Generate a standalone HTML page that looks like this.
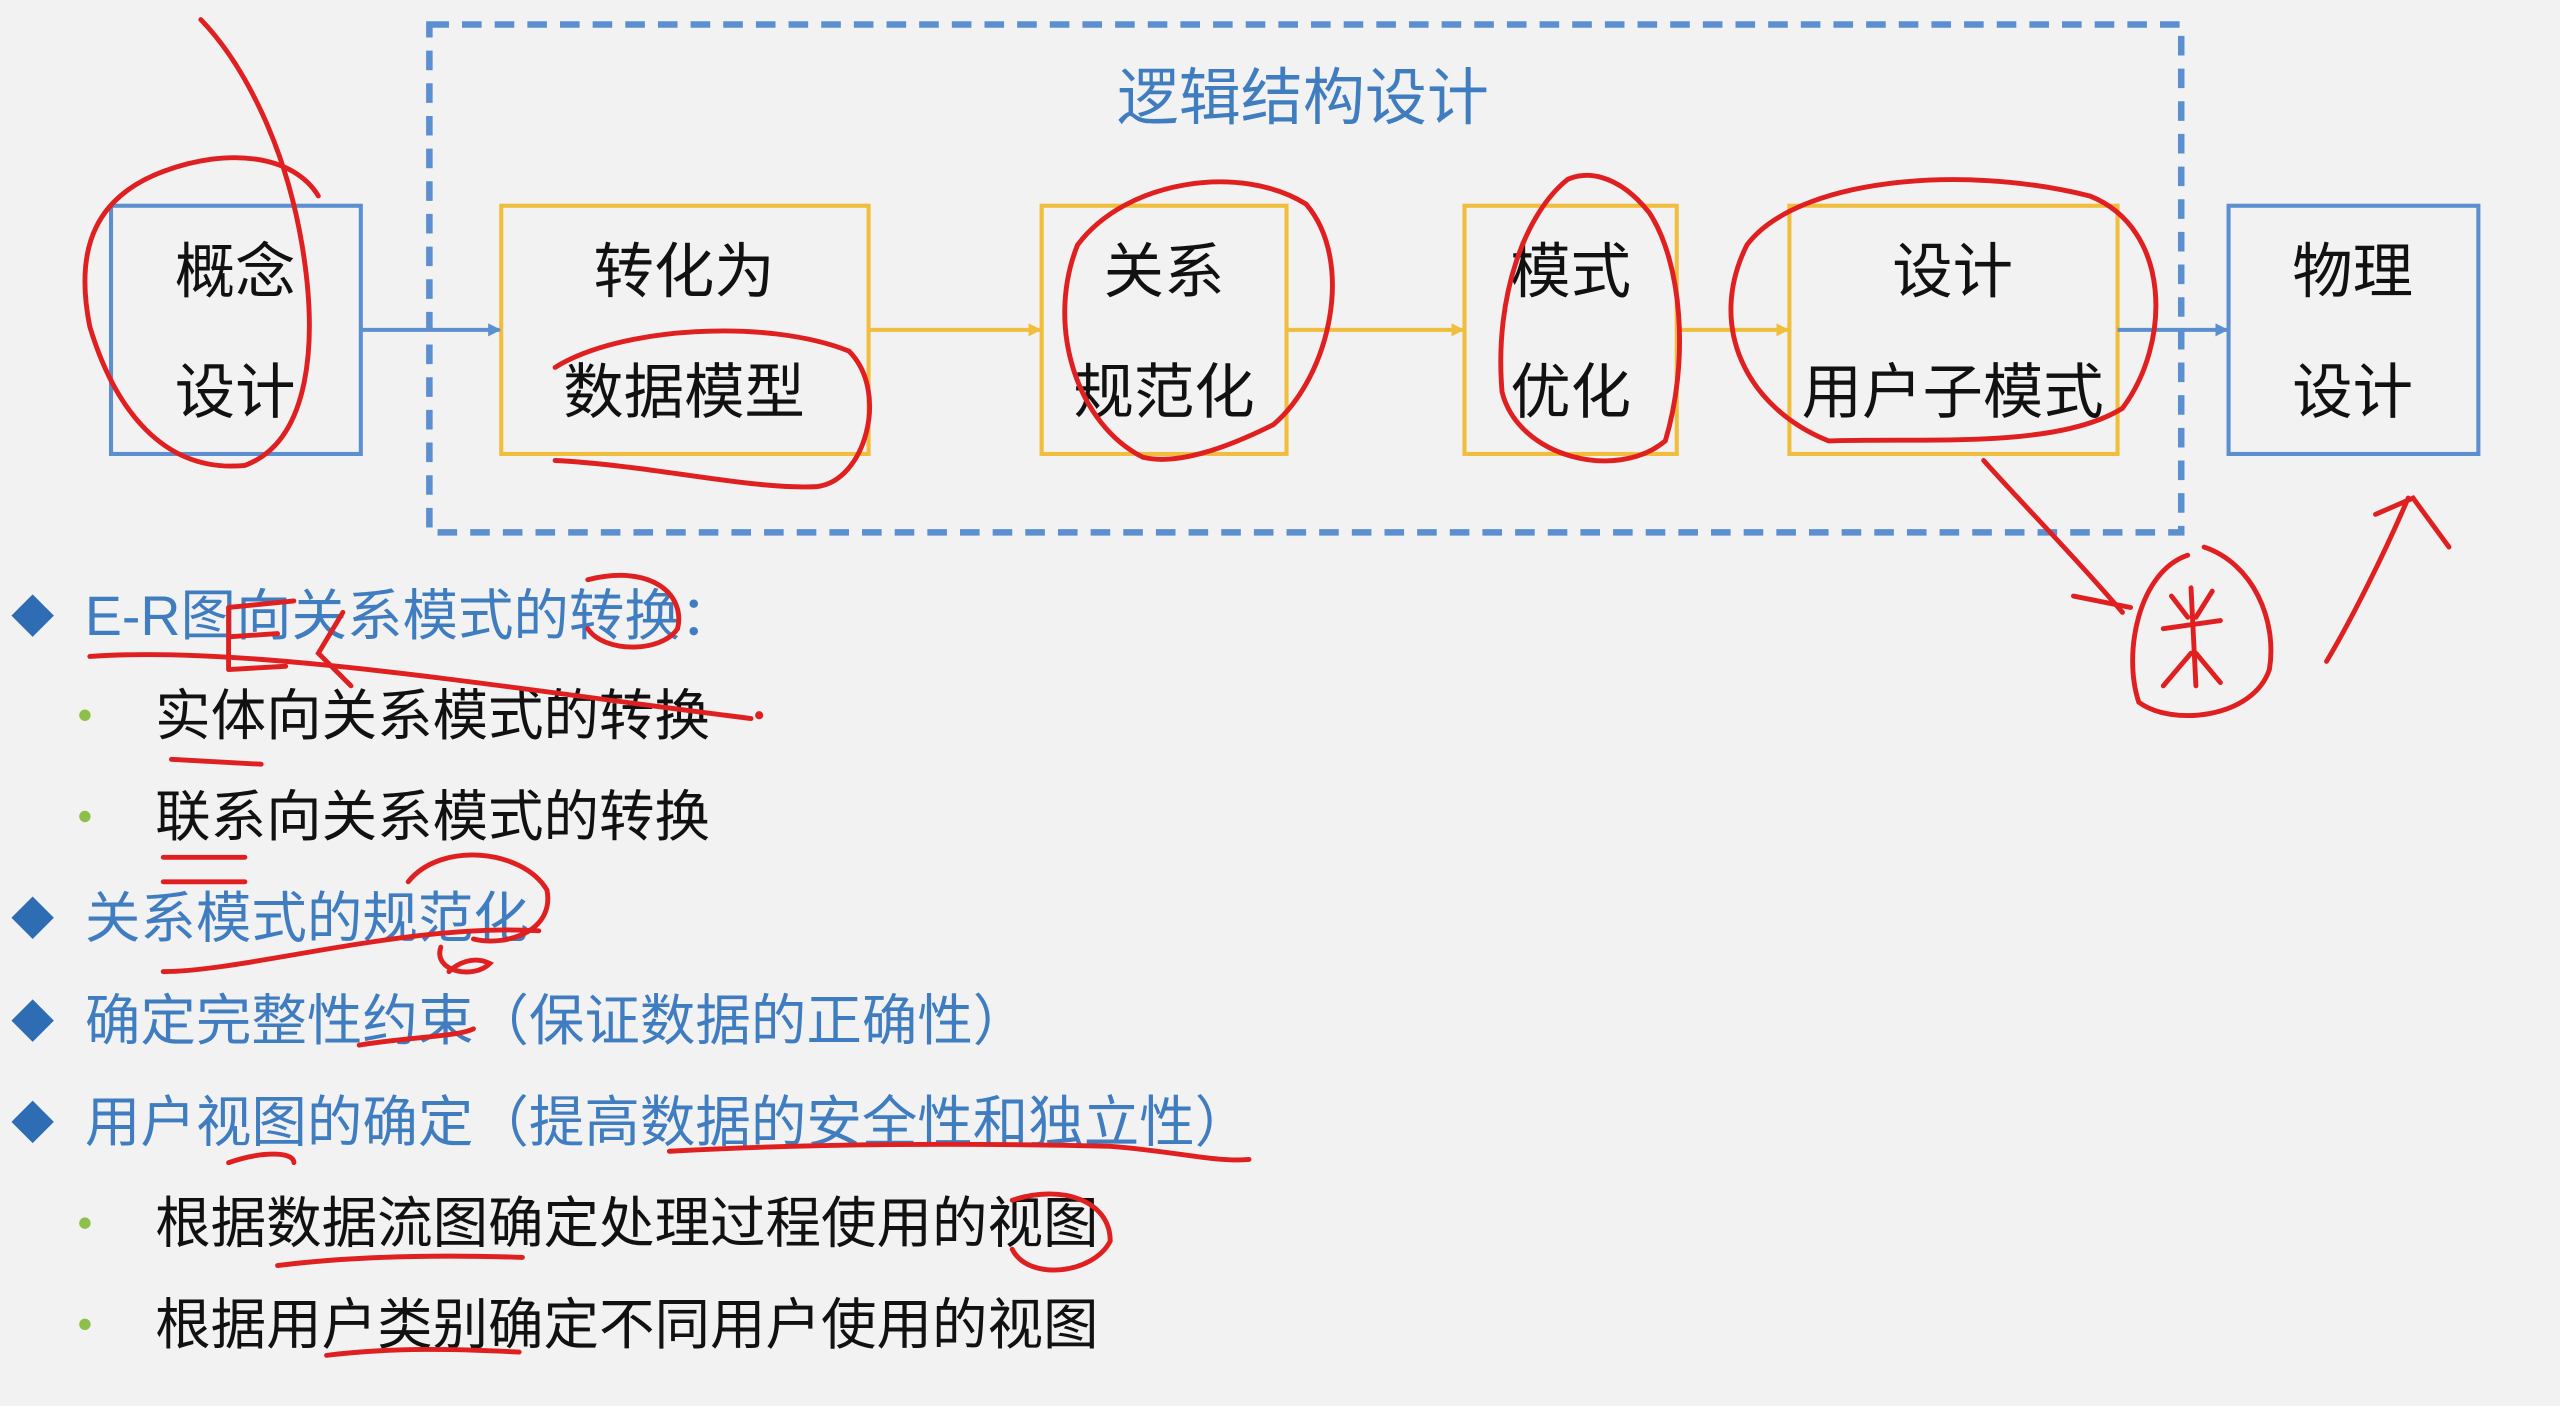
<!DOCTYPE html>
<html><head><meta charset="utf-8"><style>
html,body{margin:0;padding:0;background:#f2f2f2;}
svg{display:block}
text{font-family:"Liberation Sans","Noto Sans CJK SC",sans-serif;}
</style></head><body>
<svg width="2560" height="1406" viewBox="0 0 1568 861" preserveAspectRatio="none" xmlns="http://www.w3.org/2000/svg">
<rect width="1568" height="861" fill="#f2f2f2"/>
<defs>
<marker id="ab" markerWidth="8" markerHeight="8" refX="7" refY="4" orient="auto" markerUnits="userSpaceOnUse"><path d="M0,0 L8,4 L0,8 z" fill="#5b8fd0"/></marker>
<marker id="ao" markerWidth="8" markerHeight="8" refX="7" refY="4" orient="auto" markerUnits="userSpaceOnUse"><path d="M0,0 L8,4 L0,8 z" fill="#f0bd3c"/></marker>
</defs>
<rect x="263" y="15" width="1073" height="311" fill="none" stroke="#5b8fd0" stroke-width="4" stroke-dasharray="12,8"/>
<text x="798" y="73" font-size="38" fill="#3f7dc0" text-anchor="middle">逻辑结构设计</text>
<g stroke-width="2.5" fill="none">
<rect x="68" y="126" width="153" height="152" stroke="#5b8fd0"/>
<rect x="307" y="126" width="225" height="152" stroke="#f0bd3c"/>
<rect x="638" y="126" width="150" height="152" stroke="#f0bd3c"/>
<rect x="897" y="126" width="130" height="152" stroke="#f0bd3c"/>
<rect x="1096" y="126" width="201" height="152" stroke="#f0bd3c"/>
<rect x="1365" y="126" width="153" height="152" stroke="#5b8fd0"/>
<line x1="221" y1="202" x2="306" y2="202" stroke="#5b8fd0" marker-end="url(#ab)"/>
<line x1="532" y1="202" x2="637" y2="202" stroke="#f0bd3c" marker-end="url(#ao)"/>
<line x1="788" y1="202" x2="896" y2="202" stroke="#f0bd3c" marker-end="url(#ao)"/>
<line x1="1027" y1="202" x2="1095" y2="202" stroke="#f0bd3c" marker-end="url(#ao)"/>
<line x1="1297" y1="202" x2="1364" y2="202" stroke="#5b8fd0" marker-end="url(#ab)"/>
</g>
<g font-size="37" fill="#111" text-anchor="middle">
<text x="144" y="179">概念</text><text x="144" y="253">设计</text>
<text x="419" y="179">转化为</text><text x="419" y="253">数据模型</text>
<text x="713" y="179">关系</text><text x="713" y="253">规范化</text>
<text x="962" y="179">模式</text><text x="962" y="253">优化</text>
<text x="1196" y="179">设计</text><text x="1196" y="253">用户子模式</text>
<text x="1441" y="179">物理</text><text x="1441" y="253">设计</text>
</g>
<g fill="#2e6db4">
<path d="M20,364 L33,377 L20,390 L7,377z"/>
<path d="M20,549 L33,562 L20,575 L7,562z"/>
<path d="M20,612 L33,625 L20,638 L7,625z"/>
<path d="M20,674 L33,687 L20,700 L7,687z"/>
</g>
<g fill="#8dc04a">
<circle cx="52" cy="438" r="3.5"/><circle cx="52" cy="500" r="3.5"/>
<circle cx="52" cy="749" r="3.5"/><circle cx="52" cy="811" r="3.5"/>
</g>
<g font-size="34">
<text x="52" y="389" fill="#3f7dc0">E-R图向关系模式的转换：</text>
<text x="95" y="450" fill="#111">实体向关系模式的转换</text>
<text x="95" y="512" fill="#111">联系向关系模式的转换</text>
<text x="52" y="574" fill="#3f7dc0">关系模式的规范化</text>
<text x="52" y="637" fill="#3f7dc0">确定完整性约束（保证数据的正确性）</text>
<text x="52" y="699" fill="#3f7dc0">用户视图的确定（提高数据的安全性和独立性）</text>
<text x="95" y="761" fill="#111">根据数据流图确定处理过程使用的视图</text>
<text x="95" y="823" fill="#111">根据用户类别确定不同用户使用的视图</text>
</g>
<g fill="none" stroke="#e02020" stroke-width="3" stroke-linecap="round">
<path d="M123,12 C150,40 175,90 185,150 C195,210 190,270 150,285 C100,290 70,250 55,200 C45,150 60,120 100,105 C140,90 180,95 195,120"/>
<path d="M340,225 C380,200 470,195 520,215 C545,240 530,295 500,298 C460,300 400,285 340,282"/>
<path d="M700,280 C660,260 640,200 660,150 C690,110 760,100 800,125 C830,160 815,230 780,260 C750,275 720,285 700,280"/>
<path d="M960,110 C935,130 915,180 920,240 C930,280 990,295 1020,270 C1035,220 1030,160 1010,130 C990,105 970,105 960,110"/>
<path d="M1120,270 C1070,250 1045,200 1070,150 C1100,110 1200,100 1280,120 C1330,140 1330,210 1300,250 C1260,275 1180,268 1120,270"/>
<path d="M1215,282 C1240,310 1270,340 1300,375 M1270,365 L1305,372"/>
<path d="M1340,340 C1310,350 1300,400 1310,430 C1330,445 1380,440 1390,410 C1395,380 1380,345 1350,335"/>
<path d="M1330,365 L1340,378 M1355,362 L1345,378 M1325,385 L1360,380 M1342,360 L1345,420 M1342,400 L1325,420 M1345,400 L1360,418"/>
<path d="M1425,405 C1440,380 1460,340 1475,305 M1455,315 L1478,305 L1500,335"/>
<path d="M55,402 C150,395 300,420 460,440"/>
<path d="M360,355 C400,345 420,365 415,385 C405,400 370,400 360,385"/>
<path d="M140,372 L180,368 M140,372 L140,410 M140,390 L170,388 M140,410 L175,408 M210,375 L195,400 L215,420"/>
<path d="M105,465 L160,468 M100,525 L150,525 M100,540 L150,540"/>
<path d="M100,595 C150,595 250,565 330,570"/>
<path d="M250,540 C270,515 320,520 335,545 C340,570 310,580 290,575"/>
<path d="M270,580 C265,595 290,600 300,590 C290,585 280,590 275,595"/>
<path d="M220,640 C250,635 280,635 290,630"/>
<path d="M140,712 C160,705 180,705 180,712"/>
<path d="M410,705 C500,700 600,700 680,702 C720,705 745,712 765,710"/>
<path d="M170,775 C210,770 260,768 320,770"/>
<path d="M620,735 C650,725 680,735 680,760 C670,780 630,785 620,765"/>
<path d="M200,830 C240,825 280,826 318,828"/>
<circle cx="465" cy="438" r="1" fill="#e02020"/>
</g>
</svg>
</body></html>
